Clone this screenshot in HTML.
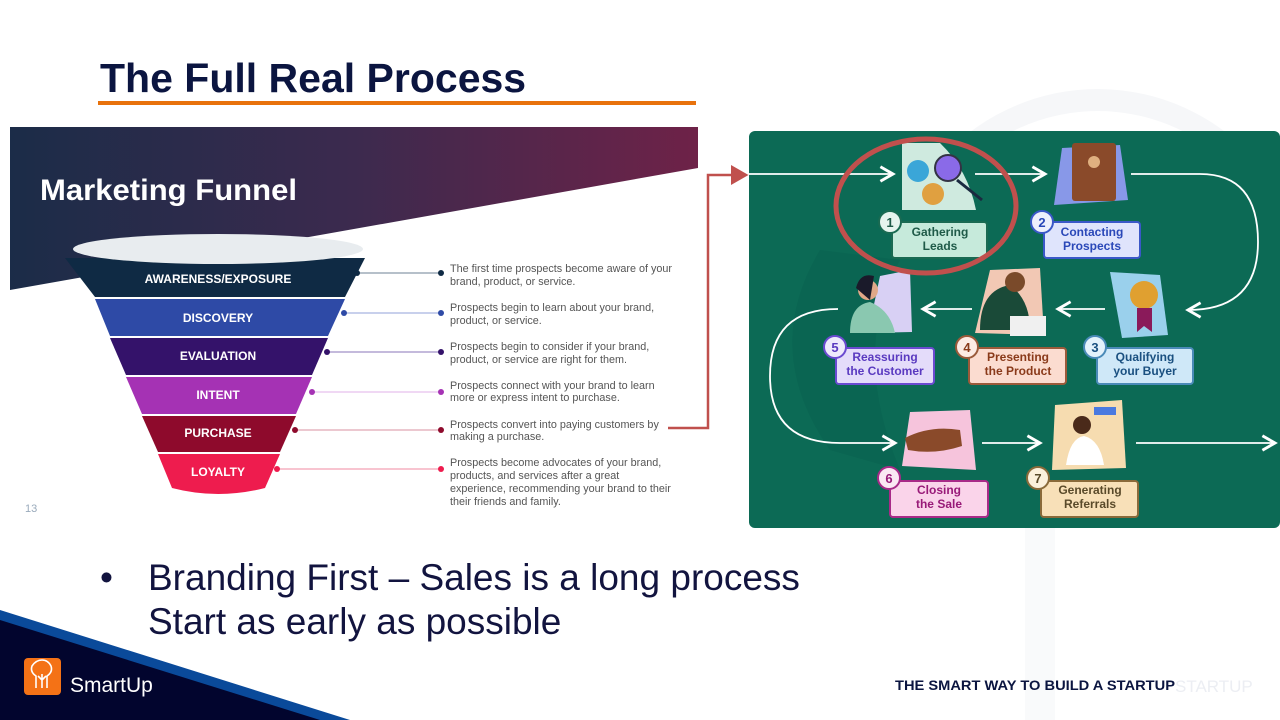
<!DOCTYPE html>
<html><head><meta charset="utf-8"><style>
body{margin:0;width:1280px;height:720px;overflow:hidden;background:#fff;font-family:"Liberation Sans",sans-serif;position:relative}
.a{position:absolute}
</style></head><body>
<svg class="a" style="left:0;top:0" width="1280" height="720">
<defs>
<linearGradient id="bn" x1="0" x2="1"><stop offset="0" stop-color="#1b2c48"/><stop offset=".5" stop-color="#3c2a4e"/><stop offset="1" stop-color="#6e2248"/></linearGradient>
<marker id="ar" markerWidth="10" markerHeight="10" refX="8" refY="5" orient="auto"><path d="M1,1 L8,5 L1,9" fill="none" stroke="#fff" stroke-width="1.6"/></marker>
<marker id="rr" markerWidth="8" markerHeight="8" refX="6" refY="4" orient="auto"><path d="M0,0 L7,4 L0,8z" fill="#c0504d"/></marker>
</defs>
<path d="M900,330 A200,200 0 0 1 1230,150" fill="none" stroke="#f6f7f9" stroke-width="22"/>
<rect x="1025" y="430" width="30" height="290" fill="#f9fafb"/>
<polygon points="10,127 698,127 698,168 10,290" fill="url(#bn)"/>
<text x="40" y="200" font-size="30" font-weight="bold" fill="#fff" textLength="257" lengthAdjust="spacingAndGlyphs">Marketing Funnel</text>
<polygon points="65,258 365,258 345,297 95,297" fill="#0f2a44"/>
<polygon points="95,299 345,299 328,336 110,336" fill="#2e4aa6"/>
<polygon points="110,338 328,338 312,375 126,375" fill="#34126a"/>
<polygon points="126,377 312,377 296,414 142,414" fill="#a532b4"/>
<polygon points="142,416 296,416 280,452 158,452" fill="#8e0a2c"/>
<path d="M158,454 L280,454 L265,488 Q218,500 172,488 Z" fill="#ee1c4e"/>
<ellipse cx="218" cy="249" rx="145" ry="15" fill="#e8ecef"/>
<g font-size="12" font-weight="bold" fill="#fff" text-anchor="middle">
<text x="218" y="283">AWARENESS/EXPOSURE</text><text x="218" y="322">DISCOVERY</text><text x="218" y="360">EVALUATION</text><text x="218" y="399">INTENT</text><text x="218" y="437">PURCHASE</text><text x="218" y="476">LOYALTY</text></g>
<g stroke-width="1.2">
<line x1="357" y1="273" x2="441" y2="273" stroke="#8a9aaa"/><line x1="344" y1="313" x2="441" y2="313" stroke="#a8b4e0"/><line x1="327" y1="352" x2="441" y2="352" stroke="#a090c8"/><line x1="312" y1="392" x2="441" y2="392" stroke="#e8c0ee"/><line x1="295" y1="430" x2="441" y2="430" stroke="#e0a8b4"/><line x1="277" y1="469" x2="441" y2="469" stroke="#f4a0b4"/></g>
<g><circle cx="357" cy="273" r="3" fill="#0f2a44"/><circle cx="441" cy="273" r="3" fill="#0f2a44"/><circle cx="344" cy="313" r="3" fill="#2e4aa6"/><circle cx="441" cy="313" r="3" fill="#2e4aa6"/><circle cx="327" cy="352" r="3" fill="#34126a"/><circle cx="441" cy="352" r="3" fill="#34126a"/><circle cx="312" cy="392" r="3" fill="#a532b4"/><circle cx="441" cy="392" r="3" fill="#a532b4"/><circle cx="295" cy="430" r="3" fill="#8e0a2c"/><circle cx="441" cy="430" r="3" fill="#8e0a2c"/><circle cx="277" cy="469" r="3" fill="#ee1c4e"/><circle cx="441" cy="469" r="3" fill="#ee1c4e"/></g>
<g font-size="10.8" fill="#555">
<text x="450" y="272">The first time prospects become aware of your</text><text x="450" y="285">brand, product, or service.</text>
<text x="450" y="311">Prospects begin to learn about your brand,</text><text x="450" y="324">product, or service.</text>
<text x="450" y="350">Prospects begin to consider if your brand,</text><text x="450" y="363">product, or service are right for them.</text>
<text x="450" y="389">Prospects connect with your brand to learn</text><text x="450" y="401">more or express intent to purchase.</text>
<text x="450" y="428">Prospects convert into paying customers by</text><text x="450" y="440">making a purchase.</text>
<text x="450" y="466">Prospects become advocates of your brand,</text><text x="450" y="479">products, and services after a great</text><text x="450" y="492">experience, recommending your brand to their</text><text x="450" y="505">their friends and family.</text></g>
<text x="25" y="512" font-size="11" fill="#9ab">13</text>
<polyline points="668,428 708,428 708,175 746,175" fill="none" stroke="#c0504d" stroke-width="2.5" marker-end="url(#rr)"/>
<rect x="749" y="131" width="531" height="397" rx="6" fill="#0c6a55"/>
<path d="M820,250 Q760,350 830,450 L900,470 Q850,350 900,260Z" fill="#0a6350" opacity=".6"/>
<g fill="none" stroke="#fff" stroke-width="1.8">
<line x1="749" y1="174" x2="893" y2="174" marker-end="url(#ar)"/>
<line x1="975" y1="174" x2="1045" y2="174" marker-end="url(#ar)"/>
<path d="M1131,174 L1200,174 Q1258,174 1258,242 Q1258,310 1188,310" marker-end="url(#ar)"/>
<line x1="1105" y1="309" x2="1058" y2="309" marker-end="url(#ar)"/>
<line x1="972" y1="309" x2="923" y2="309" marker-end="url(#ar)"/>
<path d="M838,309 Q770,309 770,376 Q770,443 840,443 L895,443" marker-end="url(#ar)"/>
<line x1="982" y1="443" x2="1040" y2="443" marker-end="url(#ar)"/>
<line x1="1136" y1="443" x2="1275" y2="443" marker-end="url(#ar)"/>
</g>
<path d="M902,143 L940,143 Q968,170 976,210 L902,210Z" fill="#cfeadf"/>
<circle cx="918" cy="171" r="11" fill="#3aa6d8"/><circle cx="948" cy="168" r="13" fill="#8a6ae8" stroke="#334" stroke-width="2"/><circle cx="933" cy="194" r="11" fill="#e0a040"/><line x1="957" y1="180" x2="982" y2="200" stroke="#1a2a40" stroke-width="3"/>
<polygon points="1062,148 1120,145 1128,200 1054,205" fill="#8898e8"/><rect x="1072" y="143" width="44" height="58" rx="3" fill="#8a4a2a"/><circle cx="1094" cy="162" r="6" fill="#e0b080"/>
<polygon points="1110,272 1160,275 1168,335 1122,338" fill="#9ad0ec"/><circle cx="1144" cy="295" r="14" fill="#e0a030"/><polygon points="1137,308 1152,308 1152,332 1144,326 1137,332" fill="#8a1a5a"/>
<polygon points="990,270 1040,268 1044,335 975,333" fill="#f2c8b4"/><path d="M980,330 Q980,290 1010,285 Q1030,300 1030,330Z" fill="#1a4a38"/><circle cx="1015" cy="282" r="10" fill="#7a4a2a"/><rect x="1010" y="316" width="36" height="20" fill="#f0f0f0"/>
<polygon points="880,276 910,270 912,332 868,333" fill="#d8d0f4"/><path d="M850,333 Q850,305 870,302 Q890,310 895,333Z" fill="#8ac8b0"/><circle cx="868" cy="290" r="10" fill="#e0a888"/><path d="M856,288 Q860,272 874,276 L870,300Z" fill="#1a1a2a"/>
<polygon points="910,412 970,410 976,470 902,466" fill="#f6c4dc"/><path d="M905,438 Q930,425 960,430 L962,446 Q935,455 908,450Z" fill="#8a4a2a"/>
<polygon points="1055,405 1122,400 1126,468 1052,470" fill="#f6dcb0"/><circle cx="1082" cy="425" r="9" fill="#4a2a1a"/><path d="M1066,465 Q1070,438 1084,436 Q1100,440 1104,465Z" fill="#fff"/><rect x="1094" y="407" width="22" height="8" fill="#4a7ae0"/>
<g stroke-width="2" font-size="12" font-weight="bold" text-anchor="middle">
<rect x="892" y="222" width="95" height="36" rx="3" fill="#c6eadb" stroke="#1a6a52"/><text x="940" y="236" fill="#1f5a48">Gathering</text><text x="940" y="250" fill="#1f5a48">Leads</text>
<rect x="1044" y="222" width="96" height="36" rx="3" fill="#dfe4fc" stroke="#3a58c8"/><text x="1092" y="236" fill="#2a48b8">Contacting</text><text x="1092" y="250" fill="#2a48b8">Prospects</text>
<rect x="1097" y="348" width="96" height="36" rx="3" fill="#cfe8f8" stroke="#4a8ab8"/><text x="1145" y="361" fill="#1a5080">Qualifying</text><text x="1145" y="375" fill="#1a5080">your Buyer</text>
<rect x="969" y="348" width="97" height="36" rx="3" fill="#fbdcd0" stroke="#9a5a3a"/><text x="1018" y="361" fill="#8a3a1a">Presenting</text><text x="1018" y="375" fill="#8a3a1a">the Product</text>
<rect x="836" y="348" width="98" height="36" rx="3" fill="#e4dcfa" stroke="#6a4ad0"/><text x="885" y="361" fill="#5a3ac0">Reassuring</text><text x="885" y="375" fill="#5a3ac0">the Customer</text>
<rect x="890" y="481" width="98" height="36" rx="3" fill="#fad4ea" stroke="#a82a88"/><text x="939" y="494" fill="#981a78">Closing</text><text x="939" y="508" fill="#981a78">the Sale</text>
<rect x="1041" y="481" width="97" height="36" rx="3" fill="#f8e0b8" stroke="#8a6a3a"/><text x="1090" y="494" fill="#5a4a2a">Generating</text><text x="1090" y="508" fill="#5a4a2a">Referrals</text>
</g>
<g stroke-width="2" font-size="13" font-weight="bold" text-anchor="middle">
<circle cx="890" cy="222" r="11" fill="#e6f4ee" stroke="#1a6a52"/><text x="890" y="227" fill="#1f5a48">1</text>
<circle cx="1042" cy="222" r="11" fill="#eef0fc" stroke="#3a58c8"/><text x="1042" y="227" fill="#2a48b8">2</text>
<circle cx="1095" cy="347" r="11" fill="#e4f2fb" stroke="#4a8ab8"/><text x="1095" y="352" fill="#1a5080">3</text>
<circle cx="967" cy="347" r="11" fill="#fcebe4" stroke="#9a5a3a"/><text x="967" y="352" fill="#8a3a1a">4</text>
<circle cx="835" cy="347" r="11" fill="#efeafc" stroke="#6a4ad0"/><text x="835" y="352" fill="#5a3ac0">5</text>
<circle cx="889" cy="478" r="11" fill="#fbe8f3" stroke="#a82a88"/><text x="889" y="483" fill="#981a78">6</text>
<circle cx="1038" cy="478" r="11" fill="#fbf0dc" stroke="#8a6a3a"/><text x="1038" y="483" fill="#5a4a2a">7</text>
</g>
<ellipse cx="926" cy="206" rx="90" ry="67" fill="none" stroke="#c0504d" stroke-width="5"/>
<text x="100" y="92" font-size="41" font-weight="bold" fill="#0b1540">The Full Real Process</text>
<rect x="98" y="101" width="598" height="4" fill="#e8720c"/>
<g font-size="37" fill="#12143f"><text x="100" y="590">•</text><text x="148" y="590">Branding First – Sales is a long process</text><text x="148" y="634">Start as early as possible</text></g>
<polygon points="0,610 350,720 0,720" fill="#0a4a9a"/>
<polygon points="0,620 320,720 0,720" fill="#02052e"/>
<rect x="24" y="658" width="37" height="37" rx="4" fill="#f47216"/>
<path d="M36,688 L36,676 Q30,672 32,666 Q36,660 42,660 Q48,660 51,666 Q53,672 47,676 L47,688 M42,688 L42,674 M42,680 L38,676 M42,680 L46,676" fill="none" stroke="#fff" stroke-width="1.6"/>
<text x="70" y="692" font-size="21" fill="#fff">SmartUp</text>
<text x="1175" y="692" font-size="17" fill="#eceef3">STARTUP</text>
<text x="895" y="690" font-size="14" font-weight="bold" fill="#0b1540" textLength="280" lengthAdjust="spacingAndGlyphs">THE SMART WAY TO BUILD A STARTUP</text>
</svg>
</body></html>
